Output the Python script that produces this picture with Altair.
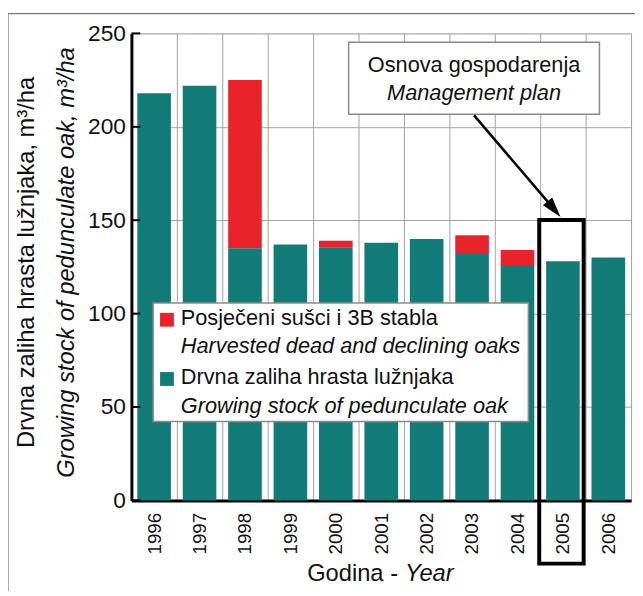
import altair as alt
import pandas as pd

# ---- data -------------------------------------------------------------
years = ["1996", "1997", "1998", "1999", "2000", "2001", "2002", "2003", "2004", "2005", "2006"]
stock = [218, 222, 135, 137, 135.5, 138, 140, 132.5, 126, 128, 130]          # growing stock
harvested = [0, 0, 90, 0, 3.5, 0, 0, 9.5, 8, 0, 0]                              # harvested dead oaks
y_ticks = [0, 50, 100, 150, 200, 250]

s_stock = "Drvna zaliha hrasta lužnjaka"
s_harv = "Posječeni sušci i 3B stabla"

rows = []
for yr, a, b in zip(years, stock, harvested):
    rows.append({"year": yr, "series": s_stock, "value": a, "ord": 0})
    rows.append({"year": yr, "series": s_harv, "value": b, "ord": 1})
df = pd.DataFrame(rows)

FONT = "Liberation Sans"
TEAL = "#137c79"
RED = "#e8232a"
GRID = "#a89f9f"

W, H = 506, 473

x_enc = alt.X("year:N", sort=years,
              scale=alt.Scale(paddingInner=0, paddingOuter=0),
              axis=alt.Axis(title=None, labelAngle=270, labelAlign="right", labelBaseline="middle",
                            labelFontSize=19, labelPadding=12, labelFont=FONT, labelColor="#111111",
                            ticks=False, grid=True, tickBand="extent", gridColor=GRID, gridWidth=1,
                            domainColor="black", domainWidth=3))
y_enc = alt.Y("value:Q", stack="zero",
              scale=alt.Scale(domain=[0, 250], nice=False),
              axis=alt.Axis(title=None, values=y_ticks, labelFontSize=23, labelFont=FONT,
                            labelColor="#111111", labelPadding=6, ticks=False,
                            gridColor=GRID, gridWidth=1, domainColor="black", domainWidth=3))

bars = alt.Chart(df).mark_bar(width=alt.RelativeBandSize(0.74)).encode(
    x=x_enc,
    y=y_enc,
    color=alt.Color("series:N", scale=alt.Scale(domain=[s_stock, s_harv], range=[TEAL, RED]), legend=None),
    order=alt.Order("ord:Q"),
)

ticks = alt.Chart(pd.DataFrame({"v": y_ticks})).mark_rule(color="black", strokeWidth=2).encode(
    y=alt.Y("v:Q", scale=alt.Scale(domain=[0, 250], nice=False)),
    x=alt.value(0), x2=alt.value(9),
)


def txt(s, x, y, size=22, style="normal", align="left", angle=0):
    return alt.Chart(pd.DataFrame({"t": [s]})).mark_text(
        font=FONT, fontSize=size, fontStyle=style, align=align, baseline="middle",
        angle=angle, color="#111111"
    ).encode(text="t:N", x=alt.value(x), y=alt.value(y))


def box(x, y, x2, y2, fill="white", stroke="#8a8a8a", sw=1.5, fo=1.0):
    return alt.Chart(pd.DataFrame({"a": [0]})).mark_rect(
        fill=fill, fillOpacity=fo, stroke=stroke, strokeWidth=sw
    ).encode(x=alt.value(x), y=alt.value(y), x2=alt.value(x2), y2=alt.value(y2))


# legend
legend_box = box(22, 273, 402, 393)
leg_red = box(29, 283, 43, 297, fill=RED, stroke=RED, sw=0)
leg_teal = box(29, 343, 43, 357, fill=TEAL, stroke=TEAL, sw=0)
leg_t1 = txt("Posječeni sušci i 3B stabla", 50, 288)
leg_t2 = txt("Harvested dead and declining oaks", 50, 317, style="italic")
leg_t3 = txt("Drvna zaliha hrasta lužnjaka", 50, 348)
leg_t4 = txt("Growing stock of pedunculate oak", 50, 377, style="italic")

# annotation
ann_box = box(220, 9, 474, 82)
ann_t1 = txt("Osnova gospodarenja", 347, 32, align="center")
ann_t2 = txt("Management plan", 347, 60, style="italic", align="center")
arrow_line = alt.Chart(pd.DataFrame({"a": [0]})).mark_rule(color="black", strokeWidth=2.5).encode(
    x=alt.value(347), y=alt.value(83), x2=alt.value(428), y2=alt.value(178))
arrow_head = alt.Chart(pd.DataFrame({"a": [0]})).mark_point(
    shape="M0,-1L0.6,1L-0.6,1Z", filled=True, color="black", opacity=1, size=420, angle=140
).encode(x=alt.value(428), y=alt.value(178))
box2005 = box(413, 189, 458, 537, fill="white", stroke="black", sw=4, fo=0)

# axis titles
yt1 = txt("Drvna zaliha hrasta lužnjaka, m³/ha", -106, 232, size=24, align="center", angle=270)
yt2 = txt("Growing stock of pedunculate oak, m³/ha", -65, 232, size=24, style="italic",
          align="center", angle=270)
xt1 = txt("Godina -", 270, 548, size=24, align="right")
xt2 = txt("Year", 277, 548, size=24, style="italic")

frame = box(-125, -20, 520, 580, fill="white", stroke="#555555", sw=1, fo=0)

chart = alt.layer(
    bars, ticks, legend_box, leg_red, leg_teal, leg_t1, leg_t2, leg_t3, leg_t4,
    ann_box, ann_t1, ann_t2, arrow_line, arrow_head, box2005,
    yt1, yt2, xt1, xt2, frame,
).properties(
    width=W, height=H,
    autosize=alt.AutoSizeParams(type="none"),
    padding={"left": 125, "top": 22, "right": 4, "bottom": 88},
).configure_view(
    stroke=GRID, strokeWidth=1
).configure(background="white")

chart.save("out.html", embed_options={"renderer": "svg", "actions": False})
